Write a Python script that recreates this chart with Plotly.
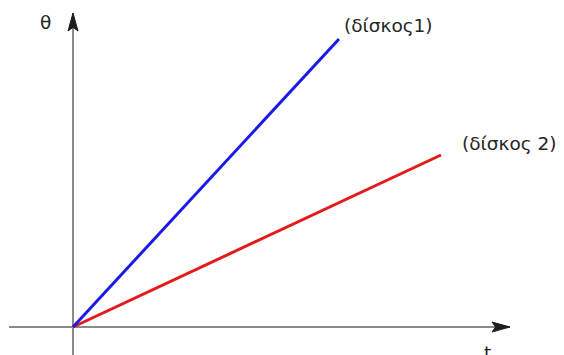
import plotly.graph_objects as go

# Data (units: arbitrary time t, angle theta)
series_names = ["(δίσκος1)", "(δίσκος 2)"]
t_blue = [0.0, 5.32]
theta_blue = [0.0, 5.76]
t_red = [0.0, 7.36]
theta_red = [0.0, 3.44]
axis_x_extent = [-1.28, 8.74]
axis_y_extent = [-0.56, 6.28]
x_label = "t"
y_label = "θ"

W, H = 564, 355
X_RANGE = [-1.30, 9.98]
Y_RANGE = [-0.72, 6.38]
px_x = W / (X_RANGE[1] - X_RANGE[0])
px_y = H / (Y_RANGE[1] - Y_RANGE[0])

fig = go.Figure()

axis_color = "#8a8a8a"
fig.add_trace(go.Scatter(x=axis_x_extent, y=[0, 0], mode="lines",
                         line=dict(color=axis_color, width=2), hoverinfo="skip", showlegend=False))
fig.add_trace(go.Scatter(x=[0, 0], y=axis_y_extent, mode="lines",
                         line=dict(color=axis_color, width=2), hoverinfo="skip", showlegend=False))

fig.add_trace(go.Scatter(x=t_red, y=theta_red, mode="lines",
                         line=dict(color="#e41a1a", width=3), name=series_names[1], showlegend=False))
fig.add_trace(go.Scatter(x=t_blue, y=theta_blue, mode="lines",
                         line=dict(color="#1a1aeb", width=3), name=series_names[0], showlegend=False))

# arrowheads (length 18 px, half width 5 px)
L, HW = 18, 5
tipx = axis_x_extent[1]
fig.add_shape(type="path",
              path=f"M {tipx} 0 L {tipx - L/px_x} {HW/px_y} L {tipx - 0.8*L/px_x} 0 L {tipx - L/px_x} {-HW/px_y} Z",
              fillcolor="#1e1e1e", line=dict(color="#1e1e1e", width=1))
tipy = axis_y_extent[1]
fig.add_shape(type="path",
              path=f"M 0 {tipy} L {HW/px_x} {tipy - L/px_y} L 0 {tipy - 0.8*L/px_y} L {-HW/px_x} {tipy - L/px_y} Z",
              fillcolor="#1e1e1e", line=dict(color="#1e1e1e", width=1))

font = dict(family="DejaVu Sans, Verdana, sans-serif", size=18.5, color="#262626")
fig.add_annotation(x=t_blue[1] + 3/px_x, y=theta_blue[1] + 14/px_y, text=series_names[0],
                   showarrow=False, xanchor="left", yanchor="middle", font=font)
fig.add_annotation(x=t_red[1] + 19/px_x, y=theta_red[1] + 12/px_y, text=series_names[1],
                   showarrow=False, xanchor="left", yanchor="middle", font=font)
fig.add_annotation(x=-28/px_x, y=axis_y_extent[1] - 9/px_y, text=y_label,
                   showarrow=False, xanchor="center", yanchor="middle", font=font)
fig.add_annotation(x=axis_x_extent[1] - 23/px_x, y=-13/px_y, text=x_label,
                   showarrow=False, xanchor="center", yanchor="top", font=font)

fig.update_layout(
    width=W, height=H, margin=dict(l=0, r=0, t=0, b=0),
    paper_bgcolor="white", plot_bgcolor="white",
    xaxis=dict(range=X_RANGE, visible=False, fixedrange=True),
    yaxis=dict(range=Y_RANGE, visible=False, fixedrange=True),
    showlegend=False,
)
fig.write_html("out.html")
